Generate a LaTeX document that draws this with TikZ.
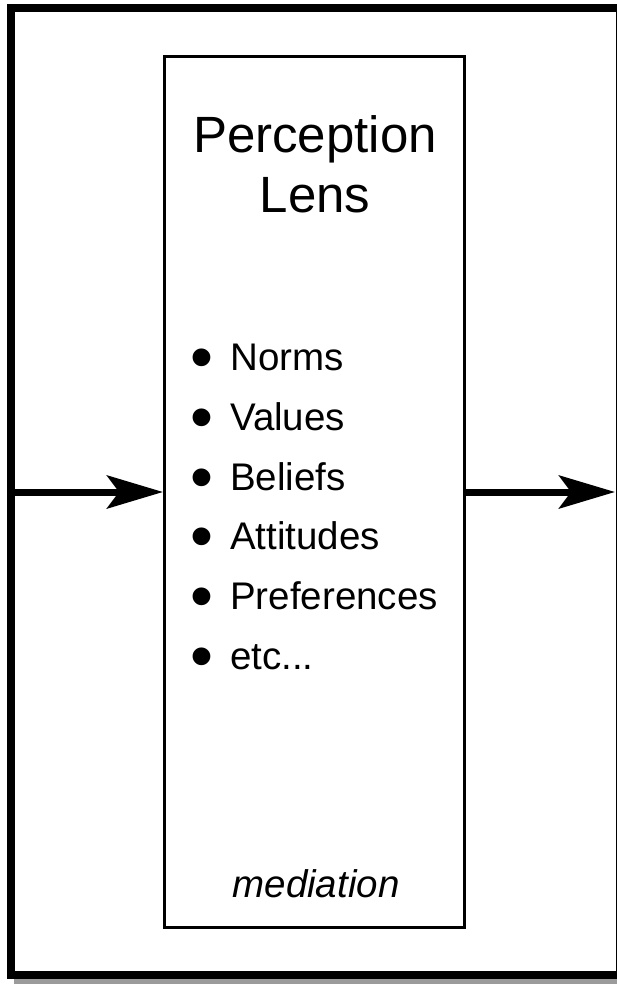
\documentclass[tikz,border=0pt]{standalone}
\usepackage{fontspec}
\setmainfont{Liberation Sans}
\usetikzlibrary{arrows.meta}
\definecolor{shadowgray}{RGB}{155,155,155}
\begin{document}
\begin{tikzpicture}[x=1pt,y=-1pt,
  lensbox/.style={draw, line width=3pt, minimum width=300pt, minimum height=870pt, inner sep=0pt},
  flow/.style={line width=7pt, -{Stealth[length=56pt,width=33pt,inset=12pt]}},
  titletext/.style={font=\fontsize{51}{60}\selectfont, inner sep=0pt, anchor=base},
  itemtext/.style={font=\fontsize{38.5}{46}\selectfont, inner sep=0pt, anchor=base west},
  notetext/.style={font=\fontsize{38.5}{46}\selectfont\itshape, inner sep=0pt, anchor=base},
]
\useasboundingbox (0,0) rectangle (617,984);
\clip (0,0) rectangle (617,984);
\fill[white] (0,0) rectangle (617,984);
% outer frame with shadow
\fill[shadowgray] (14,979) rectangle (630,984);
\draw[line width=8pt] (11,8) rectangle (620,975);
% lens box
\node[lensbox] (lens) at (314.5,492) {};
% title
\node[titletext] (t1) at (315,153) {Perception};
\node[titletext] (t2) at (315,213) {Lens};
% items
\newcommand{\itemdot}{\llap{\makebox[39.5pt][l]{\raisebox{-9pt}{\scalebox{1.7}{•}}}}}
\node[itemtext] (i1) at (230,370) {\itemdot Norms};
\node[itemtext] (i2) at (230,430) {\itemdot Values};
\node[itemtext] (i3) at (230,490) {\itemdot Beliefs};
\node[itemtext] (i4) at (230,549) {\itemdot Attitudes};
\node[itemtext] (i5) at (230,609) {\itemdot Preferences};
\node[itemtext] (i6) at (230,669) {\itemdot etc...};
\node[notetext] (med) at (316,897) {mediation};
% arrows
\coordinate (inL) at (15,492);
\coordinate (outR) at (615,492);
\draw[flow] (inL) -- (lens.west);
\draw[flow] (lens.east) -- (outR);
\end{tikzpicture}
\end{document}
